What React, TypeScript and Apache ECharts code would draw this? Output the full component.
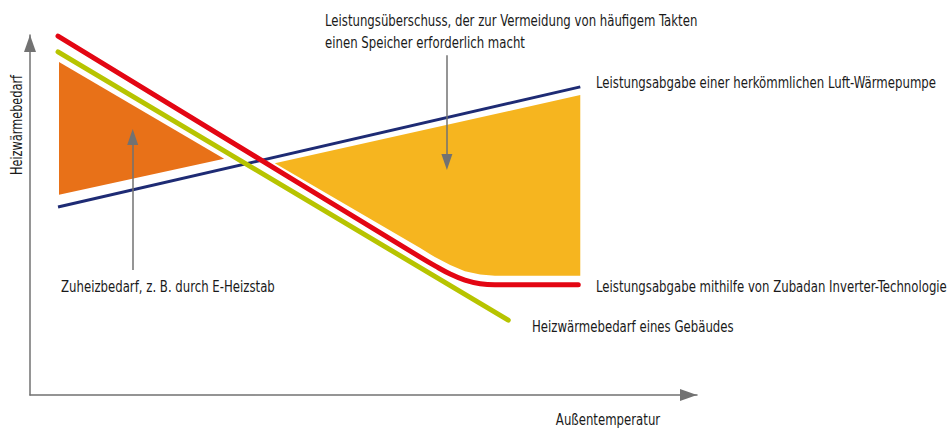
import React, { useEffect, useRef } from "react";
import * as echarts from "echarts";

// schematic units: x 0..100 (outside temperature), y 0..100 (heat demand / output)
const conventionalPump: [number, number][] = [[4.2, 52.2], [82.5, 85.6]];
const buildingDemand: [number, number][] = [[4.2, 95.3], [71.7, 20.8]];
const zubadanOutput: [number, number][] = [
  [4.2, 99.7], [58.5, 38.3], [60.8, 35.8], [63.0, 33.6], [65.2, 31.9], [67.5, 30.9], [69.7, 30.6], [82.2, 30.6],
];
const supplementArea: [number, number][] = [[4.35, 92.5], [4.35, 55.6], [29.1, 65.6]];
const surplusArea: [number, number][] = [
  [36.7, 64.4], [58.5, 40.8], [60.7, 38.3], [63.0, 36.1], [65.2, 34.4], [67.5, 33.5], [69.7, 33.1], [82.5, 33.1], [82.5, 83.3],
];
const pointerSupplement: [number, number][] = [[15.4, 34.7], [15.4, 71.7]];
const pointerSurplus: [number, number][] = [[62.5, 94.4], [62.5, 64.7]];

const FONT = "'Liberation Sans Narrow', 'DejaVu Sans Condensed', sans-serif";
const TXT = "#1a1a1a";
const SX = 0.87;

function polygonSeries(name: string, pts: [number, number][], color: string) {
  return {
    type: "custom",
    name,
    silent: true,
    data: pts.map((p, i) => [p[0], p[1], i]),
    renderItem: (params: any, api: any) => {
      if (params.dataIndex !== 0) return null;
      const points = pts.map((p) => api.coord(p));
      return { type: "polygon", shape: { points }, style: { fill: color } };
    },
    z: 1,
  };
}

function label(text: string, x: number, y: number, extra: any = {}) {
  return {
    type: "text",
    x,
    y,
    scaleX: SX,
    ...extra,
    style: { text, font: `15px ${FONT}`, fill: TXT, verticalAlign: "middle", ...(extra.style || {}) },
  };
}

export default function App() {
  const ref = useRef<HTMLDivElement>(null);
  useEffect(() => {
    document.body.style.margin = "0";
    const chart = echarts.init(ref.current!, null, { renderer: "svg" });
    const axisBase = {
      type: "value",
      min: 0,
      max: 100,
      splitLine: { show: false },
      axisTick: { show: false },
      axisLabel: { show: false },
      axisLine: {
        show: true,
        symbol: ["none", "triangle"],
        symbolSize: [12, 17],
        symbolOffset: [0, -8.5],
        lineStyle: { color: "#727272", width: 1.5 },
      },
    };
    chart.setOption({
      animation: false,
      grid: { left: 30, right: 253, top: 35, bottom: 34 },
      xAxis: { ...axisBase },
      yAxis: { ...axisBase },
      series: [
        polygonSeries("Zuheizbedarf", supplementArea, "#E87118"),
        polygonSeries("Leistungsüberschuss", surplusArea, "#F6B51F"),
        {
          type: "line",
          name: "Luft-Wärmepumpe",
          data: conventionalPump,
          showSymbol: false,
          silent: true,
          lineStyle: { color: "#1E2B74", width: 3 },
          z: 3,
          markLine: {
            silent: true,
            symbol: ["none", "triangle"],
            symbolSize: [11, 16],
            label: { show: false },
            lineStyle: { color: "#727272", width: 1.5, type: "solid" },
            data: [
              [{ coord: pointerSupplement[0] }, { coord: pointerSupplement[1] }],
              [{ coord: pointerSurplus[0] }, { coord: pointerSurplus[1] }],
            ],
          },
        },
        {
          type: "line",
          name: "Heizwärmebedarf",
          data: buildingDemand,
          showSymbol: false,
          silent: true,
          lineStyle: { color: "#B7C400", width: 5, cap: "round" },
          z: 4,
        },
        {
          type: "line",
          name: "Zubadan",
          data: zubadanOutput,
          smooth: 0.4,
          showSymbol: false,
          silent: true,
          lineStyle: { color: "#E30613", width: 5, cap: "round", join: "round" },
          z: 5,
        },
      ],
      graphic: [
        label("Leistungsüberschuss, der zur Vermeidung von häufigem Takten", 325, 21),
        label("einen Speicher erforderlich macht", 325, 43),
        label("Leistungsabgabe einer herkömmlichen Luft-Wärmepumpe", 596, 83),
        label("Leistungsabgabe mithilfe von Zubadan Inverter-Technologie", 596, 287),
        label("Heizwärmebedarf eines Gebäudes", 532, 327),
        label("Zuheizbedarf, z. B. durch E-Heizstab", 61, 287),
        label("Außentemperatur", 608, 420, { style: { align: "center" } }),
        label("Heizwärmebedarf", 17, 125, { rotation: Math.PI / 2, scaleX: 0.84, style: { align: "center" } }),
      ],
    });
    return () => chart.dispose();
  }, []);
  return <div ref={ref} style={{ width: 950, height: 429 }} />;
}
